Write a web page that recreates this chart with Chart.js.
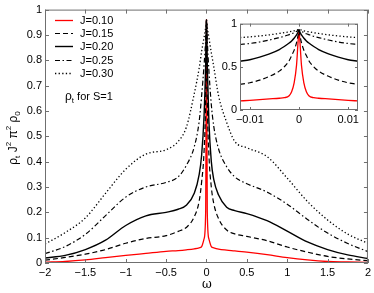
<!DOCTYPE html>
<html>
<head>
<meta charset="utf-8">
<script src="https://cdn.jsdelivr.net/npm/chart.js@4.4.0/dist/chart.umd.min.js"></script>
<style>
body{margin:0;background:#fff;}
#wrap{position:relative;width:374px;height:293px;}
#main{position:absolute;left:0;top:0;}
#inset{position:absolute;left:210px;top:14px;}
</style>
</head>
<body>
<div id="wrap">
<canvas id="main" width="374" height="293"></canvas>
<canvas id="inset" width="160" height="112"></canvas>
</div>
<script>
// Dados do grafico principal
const labelsJ = ["J=0.10", "J=0.15", "J=0.20", "J=0.25", "J=0.30"];
const omega = [-2, -1.75, -1.5, -1.25, -1, -0.75, -0.5, -0.35, -0.25, -0.15, -0.09, -0.06, -0.03, -0.01, 0,
  0.01, 0.03, 0.06, 0.09, 0.15, 0.25, 0.35, 0.5, 0.75, 1, 1.25, 1.5, 1.75, 2];
const rhoJ10 = [0.003, 0.006, 0.012, 0.021, 0.03, 0.038, 0.046, 0.049, 0.052, 0.056, 0.06, 0.065, 0.095, 0.2, 0.96,
  0.2, 0.095, 0.065, 0.06, 0.055, 0.051, 0.048, 0.043, 0.033, 0.021, 0.012, 0.006, 0.004, 0.002];
const rhoJ15 = [0.011, 0.022, 0.035, 0.053, 0.078, 0.097, 0.108, 0.125, 0.14, 0.183, 0.245, 0.32, 0.44, 0.65, 0.96,
  0.65, 0.43, 0.30, 0.235, 0.175, 0.13, 0.115, 0.105, 0.088, 0.063, 0.043, 0.026, 0.016, 0.009];
const rhoJ20 = [0.02, 0.03, 0.053, 0.09, 0.148, 0.186, 0.2, 0.212, 0.228, 0.276, 0.35, 0.425, 0.58, 0.78, 0.96,
  0.78, 0.56, 0.40, 0.33, 0.268, 0.22, 0.207, 0.195, 0.167, 0.126, 0.083, 0.053, 0.032, 0.018];
const rhoJ25 = [0.037, 0.065, 0.113, 0.187, 0.26, 0.30, 0.318, 0.34, 0.385, 0.46, 0.56, 0.66, 0.78, 0.88, 0.96,
  0.88, 0.76, 0.625, 0.54, 0.45, 0.38, 0.34, 0.313, 0.28, 0.232, 0.172, 0.118, 0.077, 0.045];
const rhoJ30 = [0.075, 0.12, 0.178, 0.275, 0.37, 0.43, 0.447, 0.48, 0.535, 0.67, 0.77, 0.835, 0.89, 0.93, 0.96,
  0.93, 0.89, 0.83, 0.775, 0.66, 0.555, 0.48, 0.455, 0.42, 0.335, 0.243, 0.17, 0.114, 0.078];
const mainXTicks = [-2, -1.5, -1, -0.5, 0, 0.5, 1, 1.5, 2];
const mainYTicks = [0, 0.1, 0.2, 0.3, 0.4, 0.5, 0.6, 0.7, 0.8, 0.9, 1];

// Dados do detalhe (inset)
const omegaInset = [-0.012, -0.01, -0.008, -0.006, -0.004, -0.003, -0.002, -0.0015, -0.001, -0.0005, -0.0002, 0,
  0.0002, 0.0005, 0.001, 0.0015, 0.002, 0.003, 0.004, 0.006, 0.008, 0.01, 0.012];
const insetJ10 = [0.105, 0.112, 0.12, 0.128, 0.136, 0.142, 0.165, 0.21, 0.31, 0.52, 0.78, 0.92,
  0.78, 0.52, 0.31, 0.21, 0.165, 0.142, 0.136, 0.128, 0.12, 0.112, 0.105];
const insetJ15 = [0.296, 0.315, 0.345, 0.39, 0.45, 0.5, 0.57, 0.63, 0.69, 0.78, 0.86, 0.92,
  0.86, 0.78, 0.69, 0.63, 0.57, 0.5, 0.45, 0.39, 0.345, 0.315, 0.296];
const insetJ20 = [0.565, 0.582, 0.612, 0.65, 0.70, 0.735, 0.775, 0.80, 0.83, 0.87, 0.9, 0.925,
  0.9, 0.87, 0.83, 0.80, 0.775, 0.735, 0.70, 0.65, 0.612, 0.582, 0.565];
const insetJ25 = [0.758, 0.77, 0.787, 0.81, 0.838, 0.853, 0.872, 0.882, 0.895, 0.91, 0.92, 0.93,
  0.92, 0.91, 0.895, 0.882, 0.872, 0.853, 0.838, 0.81, 0.787, 0.77, 0.758];
const insetJ30 = [0.838, 0.846, 0.857, 0.87, 0.886, 0.895, 0.905, 0.91, 0.917, 0.925, 0.93, 0.935,
  0.93, 0.925, 0.917, 0.91, 0.905, 0.895, 0.886, 0.87, 0.857, 0.846, 0.838];
const insetXTicks = [-0.01, 0, 0.01];
const insetYTicks = [0, 0.5, 1];

// Estilos das linhas
const lineColors = ["#ff0000", "#000", "#000", "#000", "#000"];
const lineDashes = [[], [5, 3], [], [5, 2.5, 1.5, 2.5], [1.3, 2.3]];
const lineWidths = [1.3, 1.2, 1.4, 1.2, 1.3];

const FONT = '"Liberation Sans", Arial, sans-serif';

function toPoints(xs, ys){
  return xs.map((x, i) => ({x: x, y: ys[i]}));
}

function makeDatasets(xs, series){
  return series.map((ys, i) => ({
    label: labelsJ[i],
    data: toPoints(xs, ys),
    borderColor: lineColors[i],
    borderWidth: lineWidths[i],
    borderDash: lineDashes[i],
    pointRadius: 0,
    fill: false,
    order: i === 0 ? 1 : 0, // vermelho por baixo das pretas
    cubicInterpolationMode: 'monotone'
  }));
}

function fmt(v){
  return String(v).replace('-', '\u2212');
}

// Moldura e ticks para dentro (estilo matlab)
function boxTicks(len){
  return {
    id: 'boxTicks',
    beforeDraw(chart){
      const a = chart.chartArea;
      const ctx = chart.ctx;
      ctx.save();
      ctx.fillStyle = '#fff';
      ctx.fillRect(a.left, a.top, a.right - a.left, a.bottom - a.top);
      ctx.restore();
    },
    afterDraw(chart){
      const {ctx, chartArea: a, scales} = chart;
      ctx.save();
      ctx.strokeStyle = '#6f6f6f';
      ctx.lineWidth = 1;
      ctx.strokeRect(a.left + 0.5, a.top + 0.5, a.right - a.left - 1, a.bottom - a.top - 1);
      ctx.beginPath();
      scales.x.ticks.forEach(t => {
        const px = Math.round(scales.x.getPixelForValue(t.value)) + 0.5;
        ctx.moveTo(px, a.bottom); ctx.lineTo(px, a.bottom - len);
        ctx.moveTo(px, a.top); ctx.lineTo(px, a.top + len);
      });
      scales.y.ticks.forEach(t => {
        const py = Math.round(scales.y.getPixelForValue(t.value)) + 0.5;
        ctx.moveTo(a.left, py); ctx.lineTo(a.left + len, py);
        ctx.moveTo(a.right, py); ctx.lineTo(a.right - len, py);
      });
      ctx.stroke();
      ctx.restore();
    }
  };
}

// Texto com sub/sobrescritos
function drawRuns(ctx, runs, x, y, align){
  let total = 0;
  runs.forEach(r => { ctx.font = r[1] + 'px ' + FONT; total += ctx.measureText(r[0]).width; });
  let cx = align === 'center' ? x - total / 2 : x;
  runs.forEach(r => {
    ctx.font = r[1] + 'px ' + FONT;
    ctx.fillText(r[0], cx, y + r[2]);
    cx += ctx.measureText(r[0]).width;
  });
}

const mainText = {
  id: 'mainText',
  afterDraw(chart){
    const ctx = chart.ctx;
    ctx.save();
    ctx.fillStyle = '#000';
    ctx.textBaseline = 'middle';

    // Legenda
    chart.data.datasets.forEach((ds, i) => {
      const y = Math.round(20 + i * 13.2) + 0.5;
      ctx.strokeStyle = ds.borderColor;
      ctx.lineWidth = ds.borderWidth;
      ctx.setLineDash(ds.borderDash);
      ctx.beginPath(); ctx.moveTo(55, y); ctx.lineTo(73, y); ctx.stroke();
      ctx.setLineDash([]);
      ctx.font = '11px ' + FONT;
      ctx.fillText(ds.label, 80, y);
    });

    // Anotacao
    drawRuns(ctx, [["\u03c1", 12, 0], ["t", 8, 4], [" for S=1", 11, 0]], 65, 97, 'left');

    // Titulo do eixo x
    ctx.textAlign = 'center';
    ctx.font = '12px "DejaVu Serif", serif';
    ctx.fillText("\u03c9", 207, 285);
    ctx.textAlign = 'left';

    // Titulo do eixo y
    ctx.translate(14, 138);
    ctx.rotate(-Math.PI / 2);
    drawRuns(ctx, [["\u03c1", 12, 0], ["t", 8, 4], [" J", 12, 0], ["2", 8, -5], [" \u03c0", 12, 0], ["2", 8, -5],
      [" \u03c1", 12, 0], ["0", 8, 4]], 0, 0, 'center');
    ctx.restore();
  }
};

function scaleOpts(ticks, size, isX){
  return {
    type: 'linear',
    min: ticks[0],
    max: ticks[ticks.length - 1],
    afterBuildTicks: s => { s.ticks = ticks.map(v => ({value: v})); },
    afterFit: s => { if (isX) s.height = size; else s.width = size; },
    grid: {display: false, drawTicks: false},
    border: {display: false},
    ticks: {
      color: '#000',
      padding: 3,
      maxRotation: 0,
      autoSkip: false,
      font: {family: FONT, size: 11},
      callback: v => fmt(v)
    }
  };
}

const mainChart = new Chart(document.getElementById('main'), {
  type: 'line',
  data: {datasets: makeDatasets(omega, [rhoJ10, rhoJ15, rhoJ20, rhoJ25, rhoJ30])},
  options: {
    responsive: false,
    animation: false,
    layout: {padding: {left: 0, right: 6, top: 8, bottom: 0}},
    plugins: {legend: {display: false}, tooltip: {enabled: false}},
    scales: {
      x: scaleOpts(mainXTicks, 30, true),
      y: scaleOpts(mainYTicks, 45, false)
    }
  },
  plugins: [boxTicks(4), mainText]
});

const insetChart = new Chart(document.getElementById('inset'), {
  type: 'line',
  data: {datasets: makeDatasets(omegaInset, [insetJ10, insetJ15, insetJ20, insetJ25, insetJ30])},
  options: {
    responsive: false,
    animation: false,
    layout: {padding: {left: 0, right: 12, top: 9, bottom: 0}},
    plugins: {legend: {display: false}, tooltip: {enabled: false}},
    scales: {
      x: Object.assign(scaleOpts(insetXTicks, 16, true), {min: -0.012, max: 0.012}),
      y: scaleOpts(insetYTicks, 30, false)
    }
  },
  plugins: [boxTicks(3)]
});
</script>
</body>
</html>
